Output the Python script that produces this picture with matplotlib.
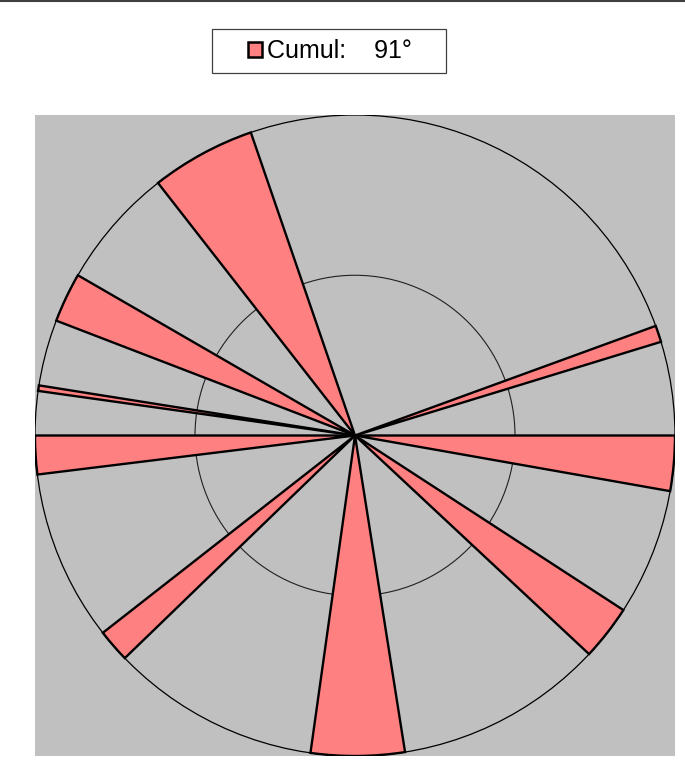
import numpy as np
import matplotlib.pyplot as plt
from matplotlib.patches import Wedge, Circle, Patch, Rectangle
from matplotlib.lines import Line2D

# sectors in degrees, 0 = east, counter-clockwise
start_deg = [-10, 17, -43, -98, 218, 180, 171, 150, 109]
end_deg = [0, 20, -33, -81, 224, 187, 172, 159, 128]
ring_radii = [0.5, 1.0]
cumul_label = 'Cumul:    91°'

plt.rcParams['font.family'] = ['Liberation Sans', 'DejaVu Sans']

W, H = 685, 762
fig = plt.figure(figsize=(W / 100, H / 100), dpi=100)

# plot area (gray square holding the circle)
ax = fig.add_axes([35 / W, 1 - 756 / H, 640 / W, 641 / H])
ax.set_facecolor('#c0c0c0')
ax.set_xlim(-1, 1)
ax.set_ylim(-1, 1)
ax.set_xticks([])
ax.set_yticks([])
for s in ax.spines.values():
    s.set_visible(False)

# reference circles
for r in ring_radii:
    lw = 0.9 if r == 1.0 else 0.8
    col = 'black' if r == 1.0 else '#202020'
    ax.add_patch(Circle((0, 0), r, fill=False, ec=col, lw=lw, zorder=1))

# sectors
for a0, a1 in zip(start_deg, end_deg):
    ax.add_patch(Wedge((0, 0), 1.0, a0, a1, fc='#ff8080', ec='black',
                       lw=1.7, zorder=2))

# line on top of the page
fig.add_artist(Line2D([0, 1], [1 - 1 / H, 1 - 1 / H], color='#404040', lw=1.5))

# legend box
fig.add_artist(Rectangle((212 / W, 1 - 73 / H), 234 / W, 44 / H,
                         transform=fig.transFigure, fc='white', ec='#404040', lw=0.9))
handle = Patch(fc='#ff8080', ec='black', lw=1.8)
fig.legend(handles=[handle], labels=[cumul_label], loc='center',
           bbox_to_anchor=(330 / W, 1 - 51 / H), frameon=False,
           fontsize=18, handlelength=0.55, handleheight=0.55, handletextpad=0.2,
           borderpad=0)

fig.savefig('out.png', dpi=100)
